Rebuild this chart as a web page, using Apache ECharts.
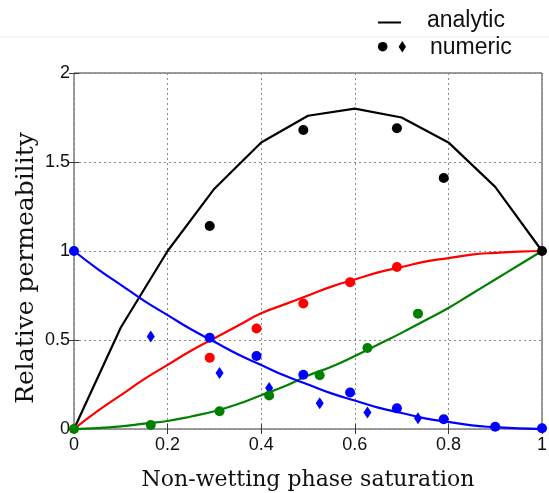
<!DOCTYPE html>
<html>
<head>
<meta charset="utf-8">
<script src="https://cdn.jsdelivr.net/npm/echarts@6/dist/echarts.min.js"></script>
<style>
  html, body { margin: 0; padding: 0; background: #fff; }
  #chart { width: 549px; height: 493px; }
</style>
</head>
<body>
<div id="chart"></div>
<script>
// Saturation samples for the analytic curves
const satCoarse = [0, 0.1, 0.2, 0.3, 0.4, 0.5, 0.6, 0.7, 0.8, 0.9, 1.0];
const satFine = [0, 0.05, 0.1, 0.15, 0.2, 0.25, 0.3, 0.35, 0.4, 0.45, 0.5,
                 0.55, 0.6, 0.65, 0.7, 0.75, 0.8, 0.85, 0.9, 0.95, 1.0];

// Analytic curves
const blackAnalytic = [0, 0.57, 1.0, 1.35, 1.61, 1.76, 1.80, 1.75, 1.61, 1.36, 1.0];
const redAnalytic = [0, 0.10, 0.19, 0.28, 0.36, 0.44, 0.51, 0.58, 0.65, 0.70, 0.75,
                     0.80, 0.84, 0.88, 0.91, 0.94, 0.96, 0.98, 0.99, 0.997, 1.0];
const blueAnalytic = [1.0, 0.90, 0.81, 0.72, 0.64, 0.56, 0.49, 0.42, 0.36, 0.30, 0.25,
                      0.20, 0.16, 0.12, 0.09, 0.06, 0.04, 0.02, 0.01, 0.003, 0];
const greenAnalytic = [0, 0.005, 0.015, 0.03, 0.045, 0.07, 0.10, 0.14, 0.19, 0.24, 0.30,
                       0.35, 0.41, 0.475, 0.54, 0.61, 0.68, 0.76, 0.84, 0.92, 1.0];

// Numeric results
const blackNumX = [0.29, 0.49, 0.69, 0.79, 1.0];
const blackNumY = [1.14, 1.68, 1.69, 1.41, 1.0];
const redNumX = [0.29, 0.39, 0.49, 0.59, 0.69];
const redNumY = [0.40, 0.565, 0.705, 0.825, 0.91];
const blueNumX = [0, 0.29, 0.39, 0.49, 0.59, 0.69, 0.79, 0.90, 1.0];
const blueNumY = [1.0, 0.513, 0.41, 0.305, 0.205, 0.116, 0.055, 0.013, 0.004];
const blueDiaX = [0.164, 0.311, 0.417, 0.525, 0.627, 0.735];
const blueDiaY = [0.52, 0.315, 0.23, 0.145, 0.092, 0.06];
const greenNumX = [0, 0.164, 0.311, 0.417, 0.525, 0.627, 0.735];
const greenNumY = [0, 0.022, 0.10, 0.188, 0.302, 0.455, 0.648];

const xTicks = [0, 0.2, 0.4, 0.6, 0.8, 1];
const yTicks = [0, 0.5, 1, 1.5, 2];

const BLACK = '#000000', RED = '#ff0000', BLUE = '#0000ff', GREEN = '#008000';
const AXIS = '#3a3a3a';

function pairs(xs, ys) { return xs.map((x, i) => [x, ys[i]]); }

function line(name, xs, ys, color, smooth, z) {
  return {
    name, type: 'line', data: pairs(xs, ys), smooth: smooth,
    showSymbol: false, symbol: 'none', z: z,
    lineStyle: { color: color, width: 2.2 }, itemStyle: { color: color },
    animation: false
  };
}
function dots(name, xs, ys, color, symbol, size, z) {
  return {
    name, type: 'scatter', data: pairs(xs, ys), symbol: symbol, symbolSize: size,
    itemStyle: { color: color, opacity: 1 }, clip: false, z: z, animation: false
  };
}

const tickFont = { fontFamily: 'Liberation Sans', fontSize: 18, color: '#111' };

const chart = echarts.init(document.getElementById('chart'), null, { renderer: 'canvas' });
chart.setOption({
  backgroundColor: '#ffffff',
  animation: false,
  grid: {
    left: 74, right: 7, top: 73, bottom: 64,
    outerBoundsMode: 'none',
    show: true, borderColor: AXIS, borderWidth: 1, backgroundColor: 'transparent'
  },
  xAxis: [{
    type: 'value', min: xTicks[0], max: xTicks[xTicks.length - 1], interval: 0.2,
    name: 'Non-wetting phase saturation', nameLocation: 'middle', nameGap: 40,
    nameTextStyle: { fontFamily: 'DejaVu Serif', fontSize: 22, color: '#111' },
    axisLine: { show: false },
    axisTick: { inside: true, length: 5, lineStyle: { color: AXIS } },
    axisLabel: Object.assign({ margin: 7 }, tickFont),
    splitLine: { show: true, lineStyle: { type: [2, 3], color: '#8a8a8a', width: 1 } }
  }, {
    type: 'value', position: 'top', min: 0, max: 1, interval: 0.2,
    axisLine: { show: false }, axisLabel: { show: false }, splitLine: { show: false },
    axisTick: { inside: true, length: 5, lineStyle: { color: AXIS } }
  }],
  yAxis: [{
    type: 'value', min: yTicks[0], max: yTicks[yTicks.length - 1], interval: 0.5,
    axisLine: { show: false },
    axisTick: { inside: true, length: 5, lineStyle: { color: AXIS } },
    axisLabel: Object.assign({ margin: 4 }, tickFont),
    splitLine: { show: true, lineStyle: { type: [2, 3], color: '#8a8a8a', width: 1 } }
  }, {
    type: 'value', position: 'right', min: 0, max: 2, interval: 0.5,
    axisLine: { show: false }, axisLabel: { show: false }, splitLine: { show: false },
    axisTick: { inside: true, length: 5, lineStyle: { color: AXIS } }
  }],
  graphic: [
    // y-axis title, set a little below the axis middle
    { type: 'text', x: 26, y: 268, rotation: Math.PI / 2,
      style: { text: 'Relative permeability', font: '25px "DejaVu Serif"', fill: '#111',
               align: 'center', verticalAlign: 'middle' } },
    // legend
    { type: 'line', shape: { x1: 0, y1: 37, x2: 549, y2: 37 }, style: { stroke: '#eeeeee', lineWidth: 1 } },
    { type: 'line', shape: { x1: 378, y1: 22.5, x2: 401, y2: 22.5 }, style: { stroke: '#000', lineWidth: 2 } },
    { type: 'circle', shape: { cx: 382.7, cy: 46.7, r: 4.8 }, style: { fill: '#000' } },
    { type: 'polygon', shape: { points: [[402.3, 41], [406, 46.7], [402.3, 52.4], [398.6, 46.7]] }, style: { fill: '#000' } },
    { type: 'text', left: 427, top: 9, style: { text: 'analytic', font: '23px "Liberation Sans"', fill: '#111' } },
    { type: 'text', left: 430, top: 36, style: { text: 'numeric', font: '23px "Liberation Sans"', fill: '#111' } }
  ],
  series: [
    line('black analytic', satCoarse, blackAnalytic, BLACK, false, 2),
    line('red analytic', satFine, redAnalytic, RED, true, 2),
    line('green analytic', satFine, greenAnalytic, GREEN, true, 2),
    line('blue analytic', satFine, blueAnalytic, BLUE, true, 2),
    dots('red numeric', redNumX, redNumY, RED, 'circle', 10, 3),
    dots('blue diamond numeric', blueDiaX, blueDiaY, BLUE, 'diamond', [8, 12], 3),
    dots('green numeric', greenNumX, greenNumY, GREEN, 'circle', 10, 4),
    dots('blue numeric', blueNumX, blueNumY, BLUE, 'circle', 10, 4),
    dots('black numeric', blackNumX, blackNumY, BLACK, 'circle', 10, 5)
  ]
});
</script>
</body>
</html>
